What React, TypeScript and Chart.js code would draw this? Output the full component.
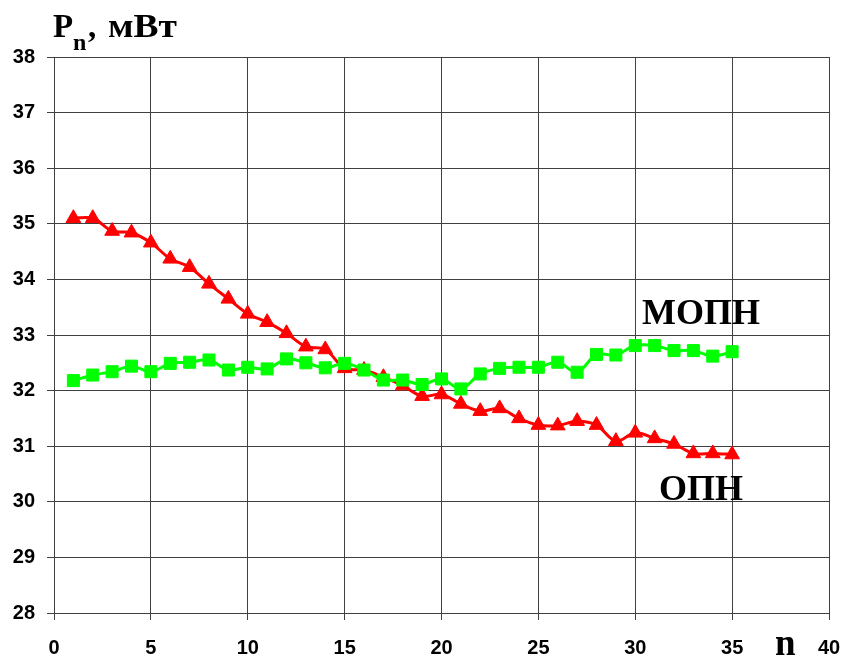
import React, { useEffect, useRef } from 'react';
import { Chart, registerables } from 'chart.js';

Chart.register(...registerables);

// ---- data ----
const nValues = [1, 2, 3, 4, 5, 6, 7, 8, 9, 10, 11, 12, 13, 14, 15, 16, 17, 18, 19, 20, 21, 22, 23, 24, 25, 26, 27, 28, 29, 30, 31, 32, 33, 34, 35];
const opnValues = [35.1, 35.1, 34.87, 34.84, 34.66, 34.37, 34.22, 33.92, 33.65, 33.38, 33.23, 33.03, 32.79, 32.74, 32.4, 32.37, 32.24, 32.09, 31.9, 31.93, 31.76, 31.63, 31.68, 31.5, 31.38, 31.37, 31.45, 31.38, 31.09, 31.24, 31.14, 31.04, 30.87, 30.87, 30.85];
const mopnValues = [32.18, 32.28, 32.34, 32.44, 32.34, 32.49, 32.51, 32.55, 32.37, 32.42, 32.39, 32.57, 32.5, 32.41, 32.49, 32.37, 32.19, 32.19, 32.11, 32.21, 32.03, 32.3, 32.4, 32.42, 32.42, 32.51, 32.33, 32.65, 32.64, 32.81, 32.81, 32.72, 32.72, 32.62, 32.7];
const xTickValues = [0, 5, 10, 15, 20, 25, 30, 35, 40];
const yTickValues = [28, 29, 30, 31, 32, 33, 34, 35, 36, 37, 38];

const yTitleMain = 'P';
const yTitleSub = 'n';
const yTitleComma = ',';
const yTitleUnit = 'мВт';
const xTitle = 'n';
const mopnLabel = 'МОПН';
const opnLabel = 'ОПН';

const textPlugin = {
  id: 'customText',
  afterDraw(chart: any) {
    const ctx = chart.ctx;
    ctx.save();
    ctx.fillStyle = '#000';
    ctx.textBaseline = 'alphabetic';
    ctx.textAlign = 'left';
    ctx.font = 'bold 33px "Liberation Serif"';
    ctx.fillText(yTitleMain, 53, 37);
    ctx.font = 'bold 24px "Liberation Serif"';
    ctx.fillText(yTitleSub, 73, 50);
    ctx.font = 'bold 33px "Liberation Serif"';
    ctx.fillText(yTitleComma, 88, 37);
    // unit, stretched to the reference's wider glyphs
    const w = ctx.measureText(yTitleUnit).width;
    const sx = 69 / w;
    ctx.save();
    ctx.translate(108, 37);
    ctx.scale(sx, 1);
    ctx.fillText(yTitleUnit, 0, 0);
    ctx.restore();
    ctx.font = 'bold 36px "Liberation Serif"';
    ctx.fillText(mopnLabel, 642, 324);
    ctx.fillText(opnLabel, 659, 500);
    ctx.font = 'bold 37px "Liberation Serif"';
    ctx.fillText(xTitle, 775, 655);
    ctx.restore();
  },
};

export default function App() {
  const ref = useRef<HTMLCanvasElement>(null);

  useEffect(() => {
    if (!ref.current) return;
    const gridColor = '#404040';
    const tickFont = { family: '"Liberation Sans"', weight: 'bold' as const, size: 20 };
    const chart = new Chart(ref.current, {
      type: 'line',
      data: {
        datasets: [
          {
            label: mopnLabel,
            data: nValues.map((n, i) => ({ x: n, y: mopnValues[i] })),
            borderColor: '#00FF00',
            backgroundColor: '#00FF00',
            borderWidth: 3,
            pointStyle: 'rect',
            pointRadius: 8.5,
            pointBorderWidth: 1,
            tension: 0.35,
            fill: false,
          },
          {
            label: opnLabel,
            data: nValues.map((n, i) => ({ x: n, y: opnValues[i] })),
            borderColor: '#FF0000',
            backgroundColor: '#FF0000',
            borderWidth: 3,
            pointStyle: 'triangle',
            pointRadius: 8.5,
            pointBorderWidth: 1,
            tension: 0.35,
            fill: false,
          },
        ],
      },
      options: {
        animation: false,
        responsive: false,
        layout: { padding: { left: 0, right: 22, top: 57, bottom: 0 } },
        plugins: { legend: { display: false }, tooltip: { enabled: false } },
        scales: {
          x: {
            type: 'linear',
            min: 0,
            max: 40,
            afterBuildTicks: (scale: any) => {
              scale.ticks = xTickValues.map((v) => ({ value: v }));
            },
            afterFit: (scale: any) => {
              scale.height = 45;
              scale.paddingLeft = 0;
              scale.paddingRight = 0;
            },
            ticks: { color: '#000', font: tickFont, padding: 16, maxRotation: 0, autoSkip: false },
            grid: { color: gridColor, lineWidth: 1, tickLength: 7 },
            border: { color: gridColor, width: 1 },
          },
          y: {
            type: 'linear',
            min: 28,
            max: 38,
            afterBuildTicks: (scale: any) => {
              scale.ticks = yTickValues.map((v) => ({ value: v }));
            },
            afterFit: (scale: any) => {
              scale.width = 54;
              scale.paddingTop = 0;
              scale.paddingBottom = 0;
            },
            ticks: { color: '#000', font: tickFont, padding: 12, autoSkip: false },
            grid: { color: gridColor, lineWidth: 1, tickLength: 7 },
            border: { color: gridColor, width: 1 },
          },
        },
      },
      plugins: [textPlugin],
    });
    return () => chart.destroy();
  }, []);

  return (
    <div style={{ position: 'absolute', left: 0, top: 0, width: 851, height: 658, background: '#fff' }}>
      <canvas ref={ref} width={851} height={658} style={{ display: 'block' }} />
    </div>
  );
}
